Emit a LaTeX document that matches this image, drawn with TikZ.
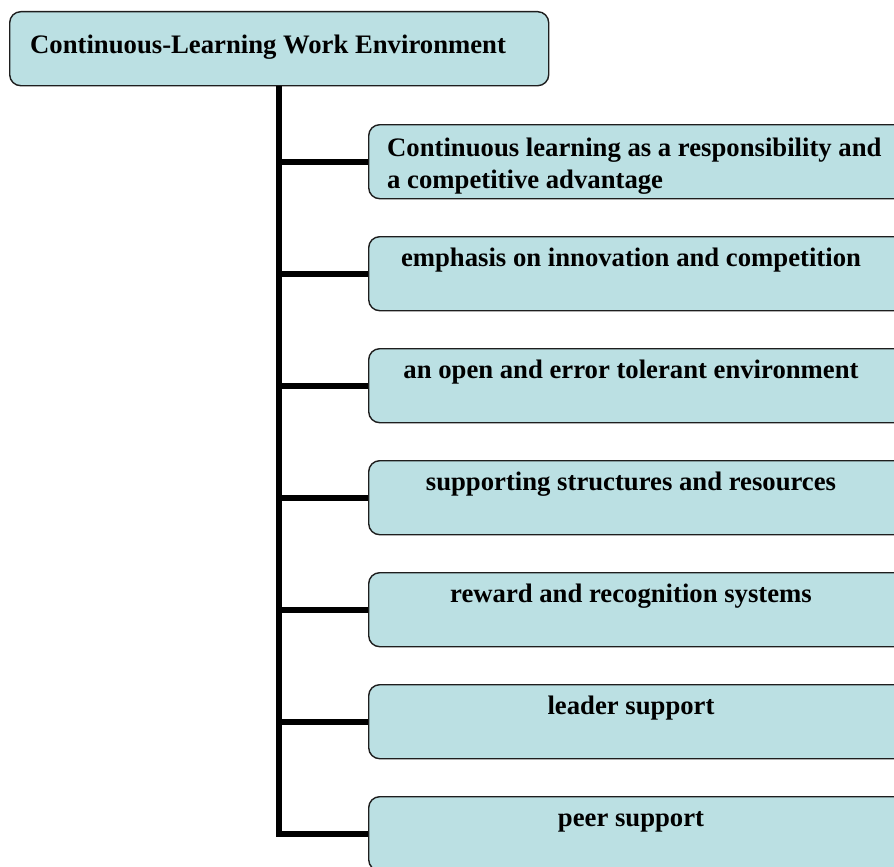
\documentclass[tikz,border=0pt]{standalone}
\usepackage{fontspec}
\setmainfont{Liberation Serif}
\definecolor{boxfill}{RGB}{187,224,227}
\definecolor{boxline}{RGB}{30,30,30}
\begin{document}
\begin{tikzpicture}[x=1pt,y=-1pt,
  box/.style={draw=boxline, line width=1.4pt, fill=boxfill, rounded corners=11pt, inner sep=0pt},
  lbl/.style={font=\fontsize{26.7}{32}\selectfont\bfseries, inner sep=0pt, anchor=base},
  conn/.style={line width=6pt, black, line join=miter}]
\useasboundingbox (0,0) rectangle (894,867);
\clip (0,0) rectangle (894,867);
\node[box, minimum width=539pt, minimum height=74pt, anchor=north west] (root) at (9,11) {};
\node[lbl, anchor=base west] (troot) at (30,53) {Continuous-Learning Work Environment};
\foreach \i in {1,...,7} {
  \node[box, minimum width=540pt, minimum height=74pt, anchor=north west] (c\i) at (368,{124+112*(\i-1)}) {};
}
\node[lbl, anchor=base west] (t1a) at (387,156) {Continuous learning as a responsibility and};
\node[lbl, anchor=base west] (t1b) at (387,188) {a competitive advantage};
\foreach \i/\t in {2/emphasis on innovation and competition,
                   3/an open and error tolerant environment,
                   4/supporting structures and resources,
                   5/reward and recognition systems,
                   6/leader support,
                   7/peer support} {
  \node[lbl] (t\i) at (631,{124+112*(\i-1)+30}) {\t};
}
\draw[conn] (root.south) |- (c7.west);
\foreach \i in {1,...,6} {
  \draw[conn] (root.south |- c\i.west) -- (c\i.west);
}
\end{tikzpicture}
\end{document}
